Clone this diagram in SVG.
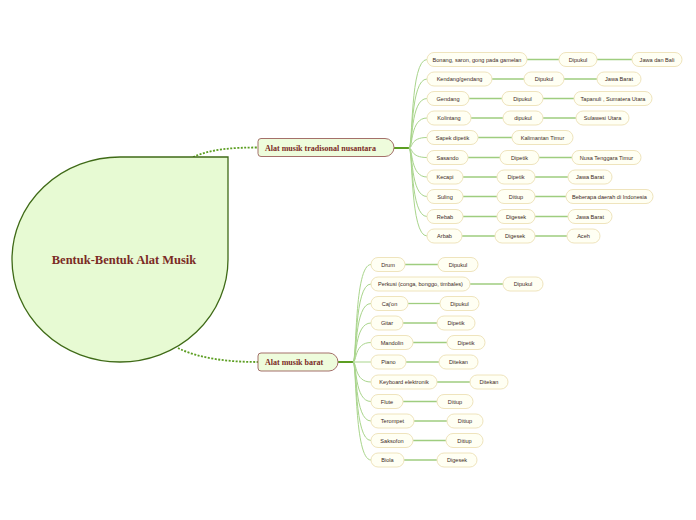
<svg xmlns="http://www.w3.org/2000/svg" width="696" height="520" viewBox="0 0 696 520">
<style>
.c{fill:#fffff3;stroke:#efe4bd;stroke-width:1}
.ct{font-family:"Liberation Sans",Arial,sans-serif;font-size:5.6px;fill:#3d2a1e;text-anchor:middle}
.m{fill:#eefcdc;stroke:#a4706a;stroke-width:1}
.mt{font-family:"Liberation Serif","Times New Roman",serif;font-weight:bold;font-size:8px;fill:#7b2b25}
.br{fill:none;stroke:#a9d58c;stroke-width:1}
.ln{fill:none;stroke:#9fcd7f;stroke-width:1.3}
.tr{fill:none;stroke:#5c9e22;stroke-width:2}
.dt{fill:none;stroke:#5c9e22;stroke-width:1.8;stroke-dasharray:2 1.5}
</style>
<g id="connectors">
<path class="dt" d="M193,157 C212,149 232,147.5 258,147.5"/>
<path class="dt" d="M178,348 C200,359 230,362 258,362"/>
<path class="tr" d="M394,148 H409"/>
<path class="tr" d="M338,362 H353"/>
<g id="branches-top">
<path class="br" d="M409,148 C413,148 410,59.5 427,59.5"/>
<path class="br" d="M409,148 C413,148 410,79 427,79"/>
<path class="br" d="M409,148 C413,148 410,98.5 427,98.5"/>
<path class="br" d="M409,148 C413,148 410,118 427,118"/>
<path class="br" d="M409,148 C413,148 410,137.5 427,137.5"/>
<path class="br" d="M409,148 C413,148 410,157.5 427,157.5"/>
<path class="br" d="M409,148 C413,148 410,177 427,177"/>
<path class="br" d="M409,148 C413,148 410,196.5 427,196.5"/>
<path class="br" d="M409,148 C413,148 410,216.5 427,216.5"/>
<path class="br" d="M409,148 C413,148 410,236 427,236"/>
</g>
<g id="branches-bottom">
<path class="br" d="M353,362 C357,362 354,264.5 371,264.5"/>
<path class="br" d="M353,362 C357,362 354,284 371,284"/>
<path class="br" d="M353,362 C357,362 354,303.5 371,303.5"/>
<path class="br" d="M353,362 C357,362 354,323 371,323"/>
<path class="br" d="M353,362 C357,362 354,342.5 371,342.5"/>
<path class="br" d="M353,362 H371"/>
<path class="br" d="M353,362 C357,362 354,382 371,382"/>
<path class="br" d="M353,362 C357,362 354,401.5 371,401.5"/>
<path class="br" d="M353,362 C357,362 354,421 371,421"/>
<path class="br" d="M353,362 C357,362 354,440.5 371,440.5"/>
<path class="br" d="M353,362 C357,362 354,460 371,460"/>
</g>
<g id="links">
<path class="ln" d="M527,59.5 H559 M597,59.5 H632"/>
<path class="ln" d="M492,79 H524 M564,79 H597"/>
<path class="ln" d="M469,98.5 H502 M543,98.5 H574"/>
<path class="ln" d="M471,118 H503 M543,118 H576"/>
<path class="ln" d="M478,137.5 H512"/>
<path class="ln" d="M468,157.5 H500 M539,157.5 H572"/>
<path class="ln" d="M463,177 H497 M535,177 H568"/>
<path class="ln" d="M463,196.5 H497 M535,196.5 H566"/>
<path class="ln" d="M463,216.5 H497 M535,216.5 H568"/>
<path class="ln" d="M462,236 H495 M535,236 H567"/>
<path class="ln" d="M405,264.5 H438"/>
<path class="ln" d="M470,284 H503"/>
<path class="ln" d="M408,303.5 H440"/>
<path class="ln" d="M403,323 H437"/>
<path class="ln" d="M413,342.5 H447"/>
<path class="ln" d="M406,362 H439"/>
<path class="ln" d="M437,382 H470"/>
<path class="ln" d="M403,401.5 H437"/>
<path class="ln" d="M414,421 H447"/>
<path class="ln" d="M413,440.5 H446"/>
<path class="ln" d="M404,460 H437"/>
</g>
</g>
<g id="central">
<path d="M120,157 H228 V259.5 A108,102.5 0 1 1 120,157 Z" fill="#e7fad3" stroke="#3f6a17" stroke-width="1.3"/>
<text x="124" y="264" text-anchor="middle" font-family="'Liberation Serif','Times New Roman',serif" font-weight="bold" font-size="12.5" fill="#7b2b25">Bentuk-Bentuk Alat Musik</text>
</g>
<g id="main-tradisional">
<path class="m" d="M261,138.5 H385 A9,9 0 0 1 394,147.5 A9,9 0 0 1 385,156.5 H261 A3,3 0 0 1 258,153.5 V141.5 A3,3 0 0 1 261,138.5 Z"/>
<text class="mt" x="265" y="150.5">Alat musik tradisonal nusantara</text>
</g>
<g id="main-barat">
<path class="m" d="M261,353 H329 A9,9 0 0 1 338,362 A9,9 0 0 1 329,371 H261 A3,3 0 0 1 258,368 V356 A3,3 0 0 1 261,353 Z"/>
<text class="mt" x="265" y="365">Alat musik barat</text>
</g>
<g id="t1"><rect class="c" x="427" y="52.5" width="100" height="14" rx="7"/><text class="ct" x="477" y="61.5">Bonang, saron, gong pada gamelan</text><rect class="c" x="559" y="52.5" width="38" height="14" rx="7"/><text class="ct" x="578" y="61.5">Dipukul</text><rect class="c" x="632" y="52.5" width="50" height="14" rx="7"/><text class="ct" x="657" y="61.5">Jawa dan Bali</text></g>
<g id="t2"><rect class="c" x="427" y="72" width="65" height="14" rx="7"/><text class="ct" x="459.5" y="81">Kendang/gendang</text><rect class="c" x="524" y="72" width="40" height="14" rx="7"/><text class="ct" x="544" y="81">Dipukul</text><rect class="c" x="597" y="72" width="44" height="14" rx="7"/><text class="ct" x="619" y="81">Jawa Barat</text></g>
<g id="t3"><rect class="c" x="427" y="91.5" width="42" height="14" rx="7"/><text class="ct" x="448" y="100.5">Gendang</text><rect class="c" x="502" y="91.5" width="41" height="14" rx="7"/><text class="ct" x="522.5" y="100.5">Dipukul</text><rect class="c" x="574" y="91.5" width="78" height="14" rx="7"/><text class="ct" x="613" y="100.5">Tapanuli , Sumatera Utara</text></g>
<g id="t4"><rect class="c" x="427" y="111" width="44" height="14" rx="7"/><text class="ct" x="449" y="120">Kolintang</text><rect class="c" x="503" y="111" width="40" height="14" rx="7"/><text class="ct" x="523" y="120">dipukul</text><rect class="c" x="576" y="111" width="53" height="14" rx="7"/><text class="ct" x="602.5" y="120">Sulawesi Utara</text></g>
<g id="t5"><rect class="c" x="427" y="130.5" width="51" height="14" rx="7"/><text class="ct" x="452.5" y="139.5">Sapek dipetik</text><rect class="c" x="512" y="130.5" width="61" height="14" rx="7"/><text class="ct" x="542.5" y="139.5">Kalimantan Timur</text></g>
<g id="t6"><rect class="c" x="427" y="150.5" width="41" height="14" rx="7"/><text class="ct" x="447.5" y="159.5">Sasando</text><rect class="c" x="500" y="150.5" width="39" height="14" rx="7"/><text class="ct" x="519.5" y="159.5">Dipetik</text><rect class="c" x="572" y="150.5" width="69" height="14" rx="7"/><text class="ct" x="606.5" y="159.5">Nusa Tenggara Timur</text></g>
<g id="t7"><rect class="c" x="427" y="170" width="36" height="14" rx="7"/><text class="ct" x="445" y="179">Kecapi</text><rect class="c" x="497" y="170" width="38" height="14" rx="7"/><text class="ct" x="516" y="179">Dipetik</text><rect class="c" x="568" y="170" width="44" height="14" rx="7"/><text class="ct" x="590" y="179">Jawa Barat</text></g>
<g id="t8"><rect class="c" x="427" y="189.5" width="36" height="14" rx="7"/><text class="ct" x="445" y="198.5">Suling</text><rect class="c" x="497" y="189.5" width="38" height="14" rx="7"/><text class="ct" x="516" y="198.5">Ditiup</text><rect class="c" x="566" y="189.5" width="87" height="14" rx="7"/><text class="ct" x="609.5" y="198.5">Beberapa daerah di Indonesia</text></g>
<g id="t9"><rect class="c" x="427" y="209.5" width="36" height="14" rx="7"/><text class="ct" x="445" y="218.5">Rebab</text><rect class="c" x="497" y="209.5" width="38" height="14" rx="7"/><text class="ct" x="516" y="218.5">Digesek</text><rect class="c" x="568" y="209.5" width="44" height="14" rx="7"/><text class="ct" x="590" y="218.5">Jawa Barat</text></g>
<g id="t10"><rect class="c" x="427" y="229" width="35" height="14" rx="7"/><text class="ct" x="444.5" y="238">Arbab</text><rect class="c" x="495" y="229" width="40" height="14" rx="7"/><text class="ct" x="515" y="238">Digesek</text><rect class="c" x="567" y="229" width="33" height="14" rx="7"/><text class="ct" x="583.5" y="238">Aceh</text></g>
<g id="b1"><rect class="c" x="371" y="257.5" width="34" height="14" rx="7"/><text class="ct" x="388" y="266.5">Drum</text><rect class="c" x="438" y="257.5" width="40" height="14" rx="7"/><text class="ct" x="458" y="266.5">Dipukul</text></g>
<g id="b2"><rect class="c" x="371" y="277" width="99" height="14" rx="7"/><text class="ct" x="420.5" y="286">Perkusi (conga, bonggo, timbales)</text><rect class="c" x="503" y="277" width="40" height="14" rx="7"/><text class="ct" x="523" y="286">Dipukul</text></g>
<g id="b3"><rect class="c" x="371" y="296.5" width="37" height="14" rx="7"/><text class="ct" x="389.5" y="305.5">Caj'on</text><rect class="c" x="440" y="296.5" width="39" height="14" rx="7"/><text class="ct" x="459.5" y="305.5">Dipukul</text></g>
<g id="b4"><rect class="c" x="371" y="316" width="32" height="14" rx="7"/><text class="ct" x="387" y="325">Gitar</text><rect class="c" x="437" y="316" width="38" height="14" rx="7"/><text class="ct" x="456" y="325">Dipetik</text></g>
<g id="b5"><rect class="c" x="371" y="335.5" width="42" height="14" rx="7"/><text class="ct" x="392" y="344.5">Mandolin</text><rect class="c" x="447" y="335.5" width="38" height="14" rx="7"/><text class="ct" x="466" y="344.5">Dipetik</text></g>
<g id="b6"><rect class="c" x="371" y="355" width="35" height="14" rx="7"/><text class="ct" x="388.5" y="364">Piano</text><rect class="c" x="439" y="355" width="39" height="14" rx="7"/><text class="ct" x="458.5" y="364">Ditekan</text></g>
<g id="b7"><rect class="c" x="371" y="375" width="66" height="14" rx="7"/><text class="ct" x="404" y="384">Keyboard elektronik</text><rect class="c" x="470" y="375" width="38" height="14" rx="7"/><text class="ct" x="489" y="384">Ditekan</text></g>
<g id="b8"><rect class="c" x="371" y="394.5" width="32" height="14" rx="7"/><text class="ct" x="387" y="403.5">Flute</text><rect class="c" x="437" y="394.5" width="36" height="14" rx="7"/><text class="ct" x="455" y="403.5">Ditiup</text></g>
<g id="b9"><rect class="c" x="371" y="414" width="43" height="14" rx="7"/><text class="ct" x="392.5" y="423">Terompet</text><rect class="c" x="447" y="414" width="36" height="14" rx="7"/><text class="ct" x="465" y="423">Ditiup</text></g>
<g id="b10"><rect class="c" x="371" y="433.5" width="42" height="14" rx="7"/><text class="ct" x="392" y="442.5">Saksofon</text><rect class="c" x="446" y="433.5" width="37" height="14" rx="7"/><text class="ct" x="464.5" y="442.5">Ditiup</text></g>
<g id="b11"><rect class="c" x="371" y="453" width="33" height="14" rx="7"/><text class="ct" x="387.5" y="462">Biola</text><rect class="c" x="437" y="453" width="40" height="14" rx="7"/><text class="ct" x="457" y="462">Digesek</text></g>
</svg>
